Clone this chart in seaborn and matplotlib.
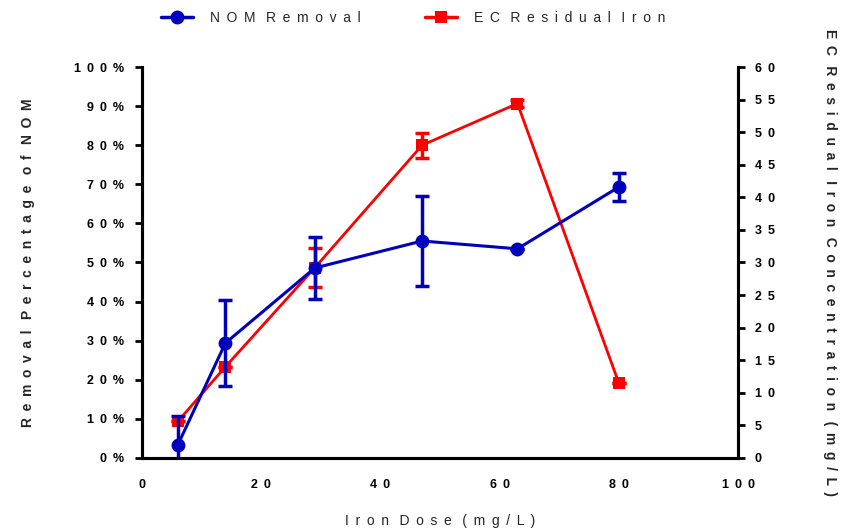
import matplotlib
matplotlib.use("Agg")
import matplotlib.pyplot as plt
from matplotlib.ticker import FuncFormatter
from matplotlib.lines import Line2D
import seaborn as sns
import pandas as pd

# ---- data ----
iron_dose = [6, 14, 29, 47, 63, 80]
nom_removal = [3.3, 29.4, 48.6, 55.5, 53.5, 69.3]      # %
nom_err = [7.5, 11.0, 8.0, 11.4, 0.0, 3.5]
residual_iron = [5.6, 14.0, 29.2, 48.0, 54.4, 11.5]     # mg/L
residual_err = [0.0, 0.0, 3.0, 1.9, 0.6, 0.0]

x_ticks = [0, 20, 40, 60, 80, 100]
left_ticks = [0, 10, 20, 30, 40, 50, 60, 70, 80, 90, 100]
right_ticks = [0, 5, 10, 15, 20, 25, 30, 35, 40, 45, 50, 55, 60]

series_names = ["NOM Removal", "EC Residual Iron"]
x_label = "Iron Dose (mg/L)"
left_label = "Removal Percentage of NOM"
right_label = "EC Residual Iron Concentration (mg/L)"

BLUE = "#0000BF"
RED = "#FF0000"

sns.set_theme(style="white")
plt.rcParams["font.family"] = ["Liberation Sans", "DejaVu Sans"]

GAP = " \u2009"
WGAP = GAP + " "


def sp(s):
    return WGAP.join(GAP.join(w) for w in s.split(" "))


df_nom = pd.DataFrame({"x": iron_dose, "y": nom_removal})
df_fe = pd.DataFrame({"x": iron_dose, "y": residual_iron})

fig = plt.figure(figsize=(8.42, 5.31), dpi=100)
ax = fig.add_axes([0.1686, 0.1375, 0.7079, 0.7363])
ax2 = ax.twinx()

# red series on right axis
sns.lineplot(data=df_fe, x="x", y="y", ax=ax2, color=RED, lw=2.0,
             marker="s", markersize=9, markeredgecolor=RED, markeredgewidth=0)
ax2.errorbar(iron_dose, residual_iron, yerr=residual_err, fmt="none",
             ecolor=RED, elinewidth=2.5, capsize=5, capthick=2.5)

# blue series on left axis
sns.lineplot(data=df_nom, x="x", y="y", ax=ax, color=BLUE, lw=2.2,
             marker="o", markersize=10, markeredgecolor=BLUE, markeredgewidth=0)
ax.errorbar(iron_dose, nom_removal, yerr=nom_err, fmt="none",
            ecolor=BLUE, elinewidth=2.5, capsize=5, capthick=2.5)

ax.set_zorder(ax2.get_zorder() + 1)
ax.patch.set_visible(False)

ax.set_xlim(0, 100)
ax.set_ylim(0, 100)
ax2.set_ylim(0, 60)
ax.set_xticks(x_ticks)
ax.set_yticks(left_ticks)
ax2.set_yticks(right_ticks)

ax.xaxis.set_major_formatter(FuncFormatter(lambda v, p: sp(f"{int(v)}")))
ax.yaxis.set_major_formatter(FuncFormatter(lambda v, p: sp(f"{int(v)}%")))
ax2.yaxis.set_major_formatter(FuncFormatter(lambda v, p: sp(f"{int(v)}")))

for a in (ax, ax2):
    for s in a.spines.values():
        s.set_linewidth(2.2)
        s.set_color("black")
    a.spines["top"].set_visible(False)
    a.tick_params(axis="both", direction="out", length=5, width=2.0,
                  colors="black", labelsize=9)
    for lab in a.get_xticklabels() + a.get_yticklabels():
        lab.set_fontweight("bold")

ax.tick_params(axis="x", pad=10)
ax.tick_params(axis="y", pad=8, left=True)
ax2.tick_params(axis="y", pad=7, right=True)

ax.set_xlabel(sp(x_label), fontsize=10, labelpad=17)
ax.xaxis.label.set_fontweight("normal")
ax.set_ylabel(sp(left_label), fontsize=10, fontweight="bold", labelpad=28)
ax2.set_ylabel(sp(right_label), fontsize=10, fontweight="bold",
               rotation=270, labelpad=45)

handles = [
    Line2D([], [], color=BLUE, lw=2.5, marker="o", markersize=10,
           markeredgewidth=0),
    Line2D([], [], color=RED, lw=2.5, marker="s", markersize=9,
           markeredgewidth=0),
]
fig.legend(handles, [sp(n) for n in series_names], loc="upper left",
           bbox_to_anchor=(0.176, 1.003), ncol=2, frameon=False,
           fontsize=10, handlelength=2.3, columnspacing=4.6,
           handletextpad=1.25)

fig.savefig("out.png", dpi=100)
